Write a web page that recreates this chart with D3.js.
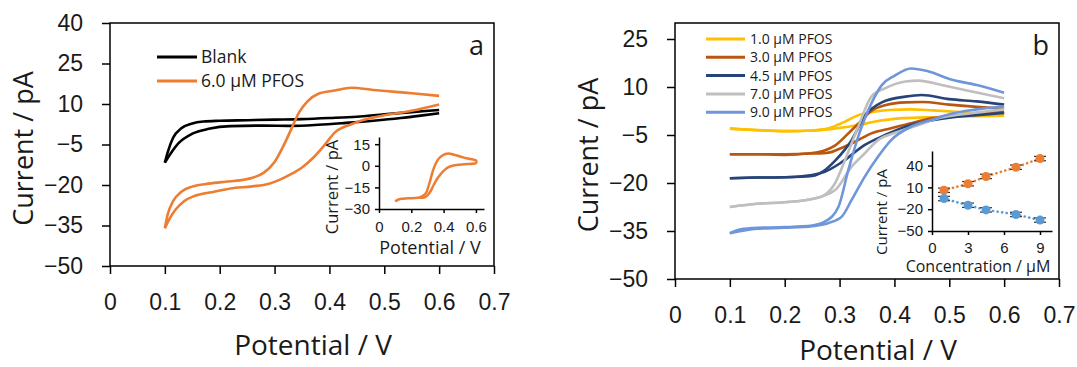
<!DOCTYPE html>
<html>
<head>
<meta charset="utf-8">
<script src="https://cdn.jsdelivr.net/npm/d3@7.9.0/dist/d3.min.js"></script>
<style>
  html, body { margin: 0; padding: 0; background: #fff; }
  svg { display: block; font-family: "Open Sans", sans-serif; }
  .axis text { fill: #1a1a1a; }
  .axis line, .axis path { stroke: #000; }
</style>
</head>
<body>
<svg id="chart" width="1077" height="367"></svg>
<script>
// ---- data: panel a (potential V, current pA), branches start at the 0.1 V tip
const blankUp = [[0.1,-11.7],[0.105,-8],[0.115,-2.5],[0.13,1],[0.15,2.8],[0.17,3.5],[0.2,3.8],[0.25,4],[0.3,4.2],[0.35,4.4],[0.4,4.8],[0.45,5.3],[0.5,6.2],[0.55,7],[0.6,7.8]];
const blankDn = [[0.1,-11.7],[0.11,-8.5],[0.125,-4.5],[0.15,-1],[0.18,0.8],[0.22,1.8],[0.28,2],[0.33,1.9],[0.38,2.3],[0.43,3],[0.48,3.8],[0.53,4.8],[0.57,5.8],[0.6,6.6]];
const pfosUp = [[0.1,-36],[0.105,-31],[0.115,-26],[0.13,-22.5],[0.15,-20.6],[0.18,-19.5],[0.21,-18.8],[0.24,-18.2],[0.26,-17.3],[0.28,-15.5],[0.3,-11.5],[0.315,-6],[0.33,0.5],[0.345,7],[0.36,11],[0.38,13.8],[0.41,15],[0.44,16],[0.48,15.2],[0.52,14.5],[0.56,13.8],[0.6,13]];
const pfosDn = [[0.1,-36],[0.11,-32],[0.12,-29],[0.135,-26],[0.155,-24],[0.19,-22.5],[0.22,-21.3],[0.26,-20.5],[0.29,-19.5],[0.31,-18],[0.33,-16],[0.35,-13.5],[0.37,-10],[0.39,-5.5],[0.41,-0.5],[0.44,2.5],[0.47,4.5],[0.5,5.8],[0.55,7.5],[0.6,9.8]];
// inset a
const insetUp = [[0.1,-24.7],[0.13,-23],[0.18,-22.6],[0.24,-22.2],[0.27,-21],[0.295,-18],[0.315,-11],[0.335,-3],[0.36,3.5],[0.39,7],[0.43,8.5],[0.47,7.5],[0.53,5.5],[0.6,3.8],[0.605,2.6]];
const insetDn = [[0.25,-22.2],[0.28,-22],[0.3,-20.5],[0.32,-17.5],[0.34,-13],[0.36,-9],[0.38,-6],[0.41,-2.5],[0.44,-0.5],[0.5,0.8],[0.55,1.2],[0.6,1.8],[0.605,2.6]];

// ---- data: panel b
const c10Up = [[0.1,-3],[0.13,-3.3],[0.17,-3.6],[0.21,-3.8],[0.25,-3.6],[0.28,-2.9],[0.31,-0.8],[0.334,1.2],[0.36,2.2],[0.39,2.8],[0.43,3],[0.47,2.7],[0.52,2.2],[0.56,1.7],[0.6,1.3]];
const c10Dn = [[0.1,-3],[0.15,-3.5],[0.2,-3.8],[0.25,-3.6],[0.29,-3],[0.334,-1.9],[0.365,-0.8],[0.41,0.2],[0.46,0.5],[0.52,0.8],[0.6,1]];
const c30Up = [[0.1,-11],[0.15,-11],[0.2,-11.2],[0.24,-10.8],[0.27,-10],[0.29,-8.5],[0.316,-4.5],[0.334,-1.5],[0.358,2.5],[0.383,4.3],[0.42,5.2],[0.45,5.3],[0.5,4.5],[0.55,3.8],[0.6,3.2]];
const c30Dn = [[0.1,-11],[0.15,-11],[0.2,-11],[0.25,-10.8],[0.28,-10.5],[0.3,-9.3],[0.334,-6.6],[0.358,-4.5],[0.394,-2.9],[0.43,-1.3],[0.467,0.2],[0.52,1.2],[0.56,1.8],[0.6,2.2]];
const c45Up = [[0.1,-18.5],[0.15,-18.3],[0.2,-18.2],[0.25,-17.8],[0.273,-16],[0.292,-13],[0.31,-9.5],[0.322,-6.6],[0.346,1],[0.377,5.2],[0.42,7],[0.45,7.5],[0.5,6.2],[0.55,5.5],[0.6,4.5]];
const c45Dn = [[0.1,-18.5],[0.15,-18.3],[0.2,-18.2],[0.25,-17.5],[0.273,-16.5],[0.304,-13.5],[0.346,-8.1],[0.383,-5],[0.42,-2.4],[0.456,-0.8],[0.5,0.4],[0.55,1.2],[0.6,1.9]];
const c70Up = [[0.1,-27.5],[0.15,-26.5],[0.2,-26],[0.25,-25],[0.273,-23.7],[0.292,-20],[0.31,-12.8],[0.334,-2.4],[0.358,7],[0.383,9.6],[0.42,11.7],[0.444,12],[0.486,10.6],[0.53,9],[0.6,6.5]];
const c70Dn = [[0.1,-27.5],[0.15,-26.5],[0.2,-26],[0.25,-25],[0.292,-22.2],[0.322,-14.9],[0.346,-10.7],[0.37,-6.6],[0.407,-4],[0.444,-1.9],[0.48,0.2],[0.54,1.8],[0.6,3]];
const c90Up = [[0.1,-35.7],[0.12,-34.5],[0.15,-34],[0.2,-33.8],[0.25,-33.3],[0.273,-32.1],[0.298,-27.4],[0.316,-15.9],[0.334,-5.5],[0.358,4.9],[0.377,10.6],[0.4,13.5],[0.43,15.8],[0.46,15],[0.5,12.5],[0.55,10.6],[0.6,8.2]];
const c90Dn = [[0.1,-35.7],[0.15,-34.3],[0.2,-34],[0.25,-33.5],[0.28,-32.5],[0.304,-30.5],[0.322,-25.3],[0.346,-18],[0.37,-11.8],[0.394,-6.6],[0.43,-2.4],[0.467,-0.3],[0.5,1.5],[0.55,3],[0.6,4]];

const bLabels = ['1.0 µM PFOS', '3.0 µM PFOS', '4.5 µM PFOS', '7.0 µM PFOS', '9.0 µM PFOS'];
const bColors = ['#ffc000', '#b9560f', '#264478', '#bfbfbf', '#6f96da'];
const bSeries = [[c10Up, c10Dn], [c30Up, c30Dn], [c45Up, c45Dn], [c70Up, c70Dn], [c90Up, c90Dn]];

// inset b: calibration
const concs = [1, 3, 4.5, 7, 9];
const anodic = [6, 15, 25, 37.7, 49.6];
const cathodic = [-5.4, -14.6, -21, -27.3, -35];
const errA = [3, 3, 3, 3, 3];
const errC = [3, 3, 3, 3, 3];

const potTicks = [0, 0.1, 0.2, 0.3, 0.4, 0.5, 0.6, 0.7];
const svg = d3.select('#chart');

function mainPanel(o) {
  const x = d3.scaleLinear().domain([0, 0.7]).range([o.x0, o.x1]);
  const y = d3.scaleLinear().domain(o.yDomain).range([o.y1, o.y0]);
  const g = svg.append('g');

  g.append('g').attr('class', 'axis')
    .attr('transform', `translate(0,${o.y1})`)
    .call(d3.axisBottom(x).tickValues(potTicks).tickSize(8).tickSizeOuter(0).tickPadding(20)
      .tickFormat(d => d === 0 ? '0' : d.toFixed(1)))
    .call(s => s.selectAll('text').attr('font-size', 23))
    .call(s => s.selectAll('line').attr('stroke-width', 1.5))
    .call(s => s.select('.domain').remove());

  g.append('g').attr('class', 'axis')
    .attr('transform', `translate(${o.x0},0)`)
    .call(d3.axisLeft(y).tickValues(o.yTicks).tickSize(8).tickSizeOuter(0).tickPadding(19))
    .call(s => s.selectAll('text').attr('font-size', 23))
    .call(s => s.selectAll('line').attr('stroke-width', 1.5))
    .call(s => s.select('.domain').remove());

  g.append('rect')
    .attr('x', o.x0).attr('y', o.y0)
    .attr('width', o.x1 - o.x0).attr('height', o.y1 - o.y0)
    .attr('fill', 'none').attr('stroke', '#000').attr('stroke-width', 1.5);

  g.append('text')
    .attr('x', (o.x0 + o.x1) / 2 + 11).attr('y', o.titleY)
    .attr('text-anchor', 'middle').attr('font-size', 28).attr('fill', '#1a1a1a')
    .text('Potential / V');

  g.append('text')
    .attr('transform', `translate(${o.x0 - 77},${(o.y0 + o.y1) / 2 + 4}) rotate(-90)`)
    .attr('text-anchor', 'middle').attr('font-size', 27).attr('fill', '#1a1a1a')
    .text('Current / pA');

  g.append('text')
    .attr('x', o.x1 - 10).attr('y', o.y0 + 32)
    .attr('text-anchor', 'end').attr('font-size', 27).attr('fill', '#1a1a1a')
    .text(o.tag);

  return { g, x, y };
}

function cvLine(x, y) {
  return d3.line().x(d => x(d[0])).y(d => y(d[1])).curve(d3.curveMonotoneX);
}

// ---- panel a
const A = mainPanel({ x0: 110, x1: 494, y0: 23, y1: 266, yDomain: [-50, 40],
  yTicks: [-50, -35, -20, -5, 10, 25, 40], tag: 'a', titleY: 355 });
const lineA = cvLine(A.x, A.y);
[[blankUp, '#000'], [blankDn, '#000'], [pfosUp, '#ed7d31'], [pfosDn, '#ed7d31']].forEach(([d, c]) => {
  A.g.append('path').attr('d', lineA(d)).attr('fill', 'none')
    .attr('stroke', c).attr('stroke-width', 2.6).attr('stroke-linejoin', 'round');
});
const legA = A.g.append('g');
[['Blank', '#000'], ['6.0 µM PFOS', '#ed7d31']].forEach(([t, c], i) => {
  const yy = 57 + i * 24;
  legA.append('line').attr('x1', 157).attr('x2', 197).attr('y1', yy).attr('y2', yy)
    .attr('stroke', c).attr('stroke-width', 3);
  legA.append('text').attr('x', 201).attr('y', yy + 6).attr('font-size', 17.5)
    .attr('fill', '#1a1a1a').text(t);
});

// inset a
{
  const x = d3.scaleLinear().domain([0, 0.65]).range([379, 484]);
  const y = d3.scaleLinear().domain([-30, 20]).range([209, 137]);
  const g = A.g.append('g');
  g.append('g').attr('class', 'axis').attr('transform', 'translate(0,209)')
    .call(d3.axisBottom(x).tickValues([0, 0.2, 0.4, 0.6]).tickSize(4).tickSizeOuter(0).tickPadding(8)
      .tickFormat(d => d === 0 ? '0' : d.toFixed(1)))
    .call(s => s.selectAll('text').attr('font-size', 15))
    .call(s => s.selectAll('line,path').attr('stroke-width', 1.5));
  g.append('g').attr('class', 'axis').attr('transform', 'translate(379,0)')
    .call(d3.axisLeft(y).tickValues([-30, -15, 0, 15]).tickSize(4).tickSizeOuter(0).tickPadding(5))
    .call(s => s.selectAll('text').attr('font-size', 15))
    .call(s => s.selectAll('line,path').attr('stroke-width', 1.5));
  const ln = d3.line().x(d => x(d[0])).y(d => y(d[1])).curve(d3.curveMonotoneX);
  [insetUp, insetDn].forEach(d => g.append('path').attr('d', ln(d)).attr('fill', 'none')
    .attr('stroke', '#ed7d31').attr('stroke-width', 2.5));
  g.append('text').attr('x', 430).attr('y', 254).attr('text-anchor', 'middle')
    .attr('font-size', 18).attr('fill', '#1a1a1a').text('Potential / V');
  g.append('text').attr('transform', 'translate(338,187) rotate(-90)').attr('text-anchor', 'middle')
    .attr('font-size', 16.5).attr('fill', '#1a1a1a').text('Current / pA');
}

// ---- panel b
const B = mainPanel({ x0: 675, x1: 1059, y0: 23, y1: 279, yDomain: [-50, 30],
  yTicks: [-50, -35, -20, -5, 10, 25], tag: 'b', titleY: 360 });
const lineB = cvLine(B.x, B.y);
bSeries.forEach((pair, i) => {
  pair.forEach(d => B.g.append('path').attr('d', lineB(d)).attr('fill', 'none')
    .attr('stroke', bColors[i]).attr('stroke-width', 2.6).attr('stroke-linejoin', 'round'));
});
bLabels.forEach((t, i) => {
  const yy = 39 + i * 18.3;
  B.g.append('line').attr('x1', 706).attr('x2', 745).attr('y1', yy).attr('y2', yy)
    .attr('stroke', bColors[i]).attr('stroke-width', 3);
  B.g.append('text').attr('x', 750).attr('y', yy + 5).attr('font-size', 14)
    .attr('fill', '#1a1a1a').text(t);
});

// inset b
{
  const x = d3.scaleLinear().domain([0, 10]).range([932, 1052]);
  const y = d3.scaleLinear().domain([-50, 60]).range([231, 151]);
  const g = B.g.append('g');
  g.append('g').attr('class', 'axis').attr('transform', 'translate(0,231)')
    .call(d3.axisBottom(x).tickValues([0, 3, 6, 9]).tickSize(4).tickSizeOuter(0).tickPadding(7))
    .call(s => s.selectAll('text').attr('font-size', 15))
    .call(s => s.selectAll('line,path').attr('stroke-width', 1.5));
  g.append('g').attr('class', 'axis').attr('transform', 'translate(932,0)')
    .call(d3.axisLeft(y).tickValues([-50, -20, 10, 40]).tickSize(4).tickSizeOuter(0).tickPadding(5))
    .call(s => s.selectAll('text').attr('font-size', 15))
    .call(s => s.selectAll('line,path').attr('stroke-width', 1.5));
  const ln = d3.line().x(d => x(d[0])).y(d => y(d[1]));
  [[anodic, errA, '#ed7d31'], [cathodic, errC, '#5b9bd5']].forEach(([vals, errs, c]) => {
    const pts = concs.map((k, i) => [k, vals[i]]);
    g.append('path').attr('d', ln(pts)).attr('fill', 'none').attr('stroke', c)
      .attr('stroke-width', 2.6).attr('stroke-linecap', 'round').attr('stroke-dasharray', '0.1 4.5');
    pts.forEach(([k, v], i) => {
      const cx = x(k), y0 = y(v - errs[i]), y1 = y(v + errs[i]);
      g.append('line').attr('x1', cx).attr('x2', cx).attr('y1', y0).attr('y2', y1).attr('stroke', '#333').attr('stroke-width', 1.2);
      [y0, y1].forEach(yy => g.append('line').attr('x1', cx - 6).attr('x2', cx + 6)
        .attr('y1', yy).attr('y2', yy).attr('stroke', '#333').attr('stroke-width', 1.2));
      g.append('circle').attr('cx', cx).attr('cy', y(v)).attr('r', 4.5).attr('fill', c);
    });
  });
  g.append('text').attr('x', 978).attr('y', 272).attr('text-anchor', 'middle')
    .attr('font-size', 16).attr('fill', '#1a1a1a').text('Concentration / µM');
  g.append('text').attr('transform', 'translate(887,212) rotate(-90)').attr('text-anchor', 'middle')
    .attr('font-size', 15).attr('fill', '#1a1a1a').text('Current / pA');
}
</script>
</body>
</html>
